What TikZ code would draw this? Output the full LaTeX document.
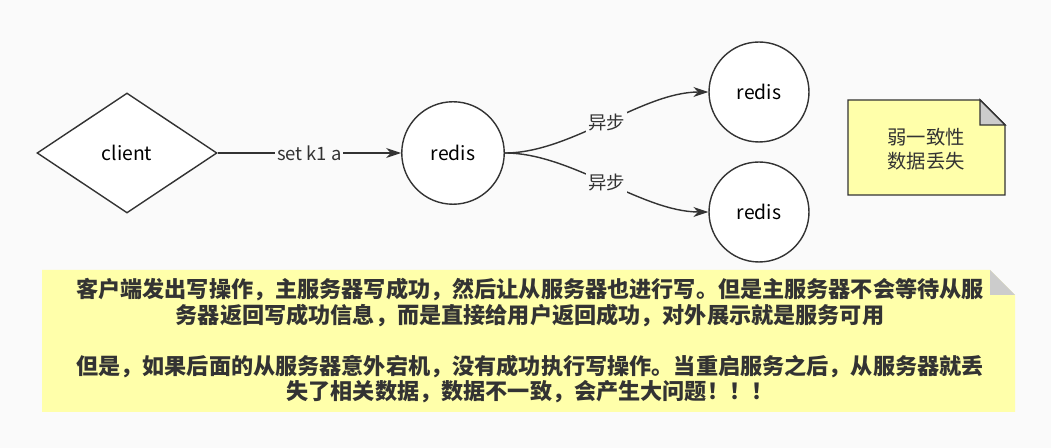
\documentclass[tikz,border=0pt]{standalone}
\usepackage{fontspec}
\setmainfont{Noto Sans CJK SC}
\usetikzlibrary{positioning,shapes.geometric,arrows.meta}

\definecolor{bgcol}{HTML}{FAFAFA}
\definecolor{notecol}{HTML}{FFFFAA}
\definecolor{foldcol}{HTML}{CCCCCC}
\definecolor{linecol}{HTML}{333333}

\tikzset{
	srv/.style = {circle, draw=linecol, thick, fill=white, minimum size=2.05cm, font=\fontsize{11}{13}\selectfont},
	flow/.style = {draw=linecol, thick, -{Stealth[length=3mm,width=2mm]}},
	lbl/.style = {fill=bgcol, inner sep=1pt, font=\fontsize{10.5}{12}\selectfont, text=linecol},
}

\begin{document}
\begin{tikzpicture}[x=0.02cm, y=-0.02cm]
	
	\fill[bgcol] (0,0) rectangle (1051,448);
	\useasboundingbox (0,0) rectangle (1051,448);
	
	% client and the master
	\node[diamond, draw=linecol, thick, fill=white, minimum width=3.6cm, minimum height=2.4cm,
		inner sep=0pt, font=\fontsize{11}{13}\selectfont] (client) at (127,153) {client};
	\node[srv] (master) at (453,153) {redis};
	
	% the two slaves
	\node[srv, minimum size=2cm] (slaveA) at (759,92) {redis};
	\node[srv, minimum size=2cm] (slaveB) at (759,212) {redis};
	
	\draw[flow] (client.east) -- node[lbl] {set k1 a} (master.west);
	\draw[flow] (master.east) to[out=0, in=180, looseness=0.8] node[lbl, pos=0.5] {异步} (slaveA.west);
	\draw[flow] (master.east) to[out=0, in=180, looseness=0.8] node[lbl, pos=0.5] {异步} (slaveB.west);
	
	% side note
	\draw[linecol, thick, fill=notecol] (848,100) -- (980,100) -- (1005,125) -- (1005,195) -- (848,195) -- cycle;
	\draw[linecol, thick, fill=foldcol] (980,100) -- (1005,125) -- (980,125) -- cycle;
	\node[align=center, text=linecol, font=\fontsize{11}{14}\selectfont] (note) at (926,149) {弱一致性\\数据丢失};
	
	% explanation box
	\fill[notecol] (42,270) -- (990,270) -- (1015,295) -- (1015,412) -- (42,412) -- cycle;
	\fill[foldcol] (990,270) -- (1015,295) -- (990,295) -- cycle;
	\node[align=center, text=linecol, font=\bfseries\fontsize{12.6}{14.5}\selectfont] (story) at (530,341)
		{客户端发出写操作，主服务器写成功，然后让从服务器也进行写。但是主服务器不会等待从服\\
		务器返回写成功信息，而是直接给用户返回成功，对外展示就是服务可用\\[14.5pt]
		但是，如果后面的从服务器意外宕机，没有成功执行写操作。当重启服务之后，从服务器就丢\\
		失了相关数据，数据不一致，会产生大问题！！！};
	
\end{tikzpicture}
\end{document}
